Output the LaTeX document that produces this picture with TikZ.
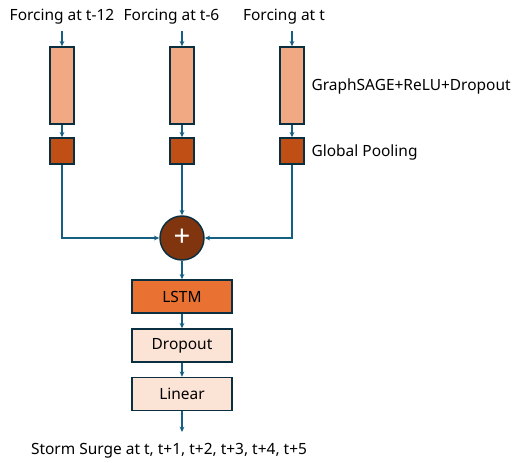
\documentclass[tikz,border=0pt]{standalone}
\usepackage{fontspec}
\setmainfont{Noto Sans}
\usetikzlibrary{arrows.meta,positioning}

\definecolor{edgeblue}{HTML}{0A2F41}
\definecolor{flowblue}{HTML}{156082}
\definecolor{sagefill}{HTML}{F1A983}
\definecolor{poolfill}{HTML}{C04F15}
\definecolor{sumfill}{HTML}{80350E}
\definecolor{lstmfill}{HTML}{E97132}
\definecolor{litefill}{HTML}{FBE3D6}

\begin{document}
\begin{tikzpicture}[x=0.75pt, y=-0.75pt,
  font=\fontsize{11.6}{13}\selectfont,
  box/.style={draw=edgeblue, line width=1.1pt, inner sep=0pt},
  sage/.style={box, fill=sagefill, minimum width=18pt, minimum height=57.75pt},
  pool/.style={box, fill=poolfill, minimum width=18pt, minimum height=19.5pt},
  sumnode/.style={box, circle, fill=sumfill, minimum size=33pt},
  lstmbox/.style={box, fill=lstmfill, minimum width=75pt, minimum height=24.75pt},
  litebox/.style={box, fill=litefill, minimum width=75pt, minimum height=24.75pt},
  flow/.style={draw=flowblue, line width=0.8pt, -{Stealth[length=4pt, width=3.6pt]}},
  lbl/.style={inner sep=1pt}]
  \useasboundingbox (0,0) rectangle (518,462);

  % inputs
  \node[lbl] (f1) at (62,17) {Forcing at t-12};
  \node[lbl] (f2) at (171.5,17) {Forcing at t-6};
  \node[lbl] (f3) at (284,17) {Forcing at t};
  \coordinate (in1) at (62,31);
  \coordinate (in2) at (182,31);
  \coordinate (in3) at (292,31);

  % graph branches
  \node[sage] (g1) at (62,85.5) {};
  \node[sage] (g2) at (182,85.5) {};
  \node[sage] (g3) at (292,85.5) {};
  \node[pool] (p1) at (62,151) {};
  \node[pool] (p2) at (182,151) {};
  \node[pool] (p3) at (292,151) {};
  \node[lbl, anchor=west] (gl) at (310,86) {GraphSAGE+ReLU+Dropout};
  \node[lbl, anchor=west] (pl) at (310,152) {Global Pooling};

  % merge and head
  \node[sumnode, text=white, font=\fontsize{22}{22}\selectfont\bfseries] (sum) at (182,238) {+};
  \node[lstmbox] (lstm) at (182,296.5) {LSTM};
  \node[litebox] (drop) at (182,345.5) {Dropout};
  \node[litebox] (lin) at (182,394) {Linear};
  \coordinate (outend) at (182,432);
  \node[lbl] (out) at (169,451) {Storm Surge at t, t+1, t+2, t+3, t+4, t+5};

  \draw[flow] (in1) -- (g1);
  \draw[flow] (in2) -- (g2);
  \draw[flow] (in3) -- (g3);
  \draw[flow] (g1) -- (p1);
  \draw[flow] (g2) -- (p2);
  \draw[flow] (g3) -- (p3);
  \draw[flow] (p1) |- (sum);
  \draw[flow] (p2) -- (sum);
  \draw[flow] (p3) |- (sum);
  \draw[flow] (sum) -- (lstm);
  \draw[flow] (lstm) -- (drop);
  \draw[flow] (drop) -- (lin);
  \draw[flow] (lin) -- (outend);
\end{tikzpicture}
\end{document}
